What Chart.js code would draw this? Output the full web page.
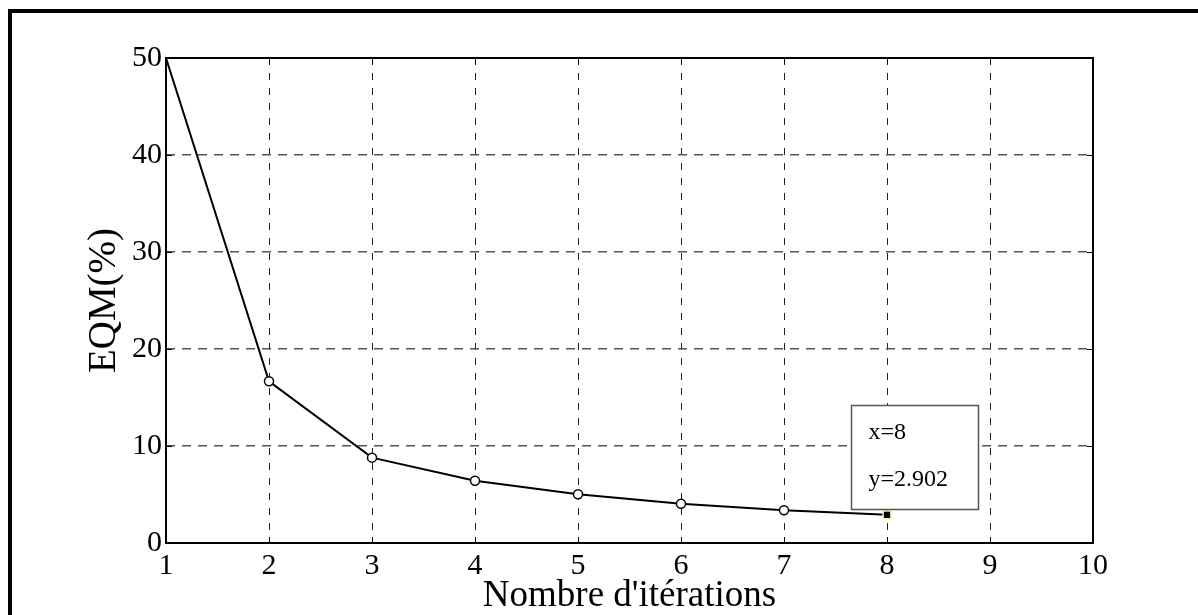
<!DOCTYPE html>
<html>
<head>
<meta charset="utf-8">
<script src="https://cdn.jsdelivr.net/npm/chart.js@4/dist/chart.umd.min.js"></script>
<style>
html,body{margin:0;padding:0;background:#fff;}
#wrap{width:1198px;height:615px;position:relative;}
</style>
</head>
<body>
<div id="wrap"><canvas id="c" width="1198" height="615"></canvas></div>
<script>
const iterations = [1, 2, 3, 4, 5, 6, 7, 8];
const eqm = [50, 16.67, 8.8, 6.42, 5.02, 4.05, 3.37, 2.902];
const xTicks = [1, 2, 3, 4, 5, 6, 7, 8, 9, 10];
const yTicks = [0, 10, 20, 30, 40, 50];
const xTitle = "Nombre d'itérations";
const yTitle = "EQM(%)";
const cursorIndex = 7;
const cursorLines = ["x=" + iterations[cursorIndex], "y=" + eqm[cursorIndex]];

const SERIF = "'Liberation Serif', 'Times New Roman', serif";

const framePlugin = {
  id: 'frame',
  beforeDraw(chart) {
    const ctx = chart.ctx;
    ctx.save();
    ctx.fillStyle = '#fff';
    ctx.fillRect(0, 0, chart.width, chart.height);
    ctx.fillStyle = '#000';
    ctx.fillRect(8, 9, chart.width, 4);
    ctx.fillRect(8, 9, 4, chart.height);
    ctx.restore();
  },
  afterDatasetsDraw(chart) {
    const ctx = chart.ctx;
    const a = chart.chartArea;
    const xs = chart.scales.x, ys = chart.scales.y;
    ctx.save();
    ctx.setLineDash([]);
    ctx.strokeStyle = '#000';
    ctx.lineWidth = 2;
    ctx.strokeRect(a.left, a.top, a.right - a.left, a.bottom - a.top);
    // inward ticks
    ctx.lineWidth = 1;
    const tl = 6;
    xTicks.forEach(v => {
      const px = Math.round(xs.getPixelForValue(v)) + 0.5;
      ctx.beginPath();
      ctx.moveTo(px, a.bottom); ctx.lineTo(px, a.bottom - tl);
      ctx.moveTo(px, a.top); ctx.lineTo(px, a.top + tl);
      ctx.stroke();
    });
    yTicks.forEach(v => {
      const py = Math.round(ys.getPixelForValue(v)) + 0.5;
      ctx.beginPath();
      ctx.moveTo(a.left, py); ctx.lineTo(a.left + tl, py);
      ctx.moveTo(a.right, py); ctx.lineTo(a.right - tl, py);
      ctx.stroke();
    });
    // data cursor box
    const px = xs.getPixelForValue(iterations[cursorIndex]);
    const py = ys.getPixelForValue(eqm[cursorIndex]);
    const bx = Math.round(px - 36) + 0.5, bw = 127, bh = 104;
    const by = Math.round(py - 6 - bh) + 0.5;
    ctx.fillStyle = '#fff';
    ctx.fillRect(bx, by, bw, bh);
    ctx.strokeStyle = '#555';
    ctx.lineWidth = 1.5;
    ctx.strokeRect(bx, by, bw, bh);
    ctx.fillStyle = '#000';
    ctx.font = '24px ' + SERIF;
    ctx.textBaseline = 'alphabetic';
    ctx.textAlign = 'left';
    ctx.fillText(cursorLines[0], bx + 17, by + 33);
    ctx.fillText(cursorLines[1], bx + 17, by + 80);
    ctx.restore();
  }
};

new Chart(document.getElementById('c'), {
  type: 'line',
  data: {
    datasets: [{
      data: iterations.map((x, i) => ({x: x, y: eqm[i]})),
      borderColor: '#000',
      borderWidth: 2,
      tension: 0,
      pointStyle: iterations.map((x, i) => i === cursorIndex ? 'rect' : 'circle'),
      pointRadius: iterations.map((x, i) => i === 0 ? 0 : (i === cursorIndex ? 5.5 : 4.5)),
      pointBackgroundColor: iterations.map((x, i) => i === cursorIndex ? '#000' : '#fff'),
      pointBorderColor: iterations.map((x, i) => i === cursorIndex ? '#f4f0b0' : '#000'),
      pointBorderWidth: 1.5,
      fill: false
    }]
  },
  options: {
    responsive: false,
    animation: false,
    events: [],
    layout: {padding: {left: 81, top: 58, right: 105, bottom: 0}},
    plugins: {legend: {display: false}, tooltip: {enabled: false}},
    scales: {
      x: {
        type: 'linear', min: 1, max: 10,
        afterBuildTicks(s) { s.ticks = xTicks.map(v => ({value: v})); },
        afterFit(s) { s.height = 72; },
        grid: {color: '#222', lineWidth: 1, drawTicks: false},
        border: {display: false, dash: [7, 8]},
        ticks: {color: '#000', padding: 5, font: {family: SERIF, size: 30}, maxRotation: 0},
        title: {display: true, text: xTitle, color: '#000', font: {family: SERIF, size: 37, lineHeight: 1.0}, padding: {top: 0, bottom: 0}}
      },
      y: {
        type: 'linear', min: 0, max: 50,
        afterBuildTicks(s) { s.ticks = yTicks.map(v => ({value: v})); },
        afterFit(s) { s.width = 85; },
        grid: {color: '#555', lineWidth: 1.5, drawTicks: false},
        border: {display: false, dash: [9, 7]},
        ticks: {color: '#000', padding: 4, font: {family: SERIF, size: 30}},
        title: {display: true, text: yTitle, color: '#000', font: {family: SERIF, size: 39}, padding: 0}
      }
    }
  },
  plugins: [framePlugin]
});
</script>
</body>
</html>
